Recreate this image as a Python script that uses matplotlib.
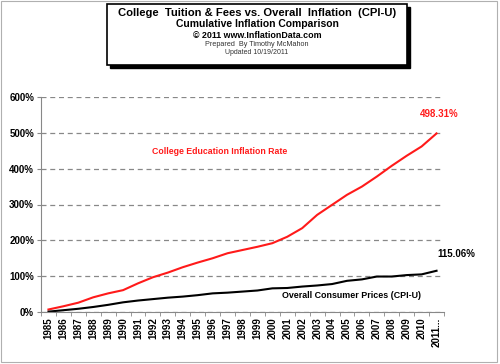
import matplotlib.pyplot as plt
from matplotlib.patches import Rectangle
import numpy as np

plt.rcParams["font.family"] = ["Liberation Sans", "DejaVu Sans"]

# ── Data ──────────────────────────────────────────────────────────────────────
years = [str(y) for y in range(1985, 2011)] + ["2011..."]
college = [7, 16, 26, 41, 52, 61, 80, 97, 110, 125, 138, 150, 164, 173,
           182, 192, 210, 234, 271, 299, 327, 350, 378, 408, 436, 462, 498.31]
cpi = [1, 5, 9, 14, 20, 27, 32, 36, 40, 43, 47, 52, 54, 57,
       60, 66, 67, 71, 74, 78, 87, 91, 99, 99, 103, 105, 115.06]
yticks = [0, 100, 200, 300, 400, 500, 600]

W, H = 500, 364
fig = plt.figure(figsize=(W / 100, H / 100), dpi=100)

# outer frame
fig.add_artist(Rectangle((1 / W, 1 - 362 / H), 496 / W, 361 / H,
                         transform=fig.transFigure, fill=False,
                         edgecolor="#b0b0b0", linewidth=0.8))

# title box with drop shadow
bx0, bx1, by0, by1 = 107, 407, 4, 65
fig.add_artist(Rectangle(((bx0 + 2.5) / W, 1 - (by1 + 2.5) / H),
                         (bx1 - bx0) / W, (by1 - by0) / H,
                         transform=fig.transFigure, facecolor="black",
                         edgecolor="black", linewidth=1))
fig.add_artist(Rectangle((bx0 / W, 1 - by1 / H), (bx1 - bx0) / W,
                         (by1 - by0) / H, transform=fig.transFigure,
                         facecolor="white", edgecolor="black", linewidth=1.2))

cx = (bx0 + bx1) / 2 / W
fig.text(cx, 1 - 12.5 / H, "College  Tuition & Fees vs. Overall  Inflation  (CPI-U)",
         ha="center", va="center", fontsize=8.1, fontweight="bold")
fig.text(cx, 1 - 24 / H, "Cumulative Inflation Comparison",
         ha="center", va="center", fontsize=7.5, fontweight="bold")
fig.text(cx, 1 - 35 / H, "© 2011 www.InflationData.com",
         ha="center", va="center", fontsize=6.4, fontweight="bold")
fig.text(cx, 1 - 44.5 / H, "Prepared  By Timothy McMahon",
         ha="center", va="center", fontsize=5.2, color="#333333")
fig.text(cx, 1 - 53 / H, "Updated 10/19/2011",
         ha="center", va="center", fontsize=5, color="#333333")

# plot area
ax0, ax1, ay0, ay1 = 41, 444, 97, 312
ax = fig.add_axes([ax0 / W, 1 - ay1 / H, (ax1 - ax0) / W, (ay1 - ay0) / H])
x = np.arange(len(years))
ax.plot(x, college, color="#ff1a1a", linewidth=1.5)
ax.plot(x, cpi, color="black", linewidth=1.5)

ax.set_xlim(-0.5, len(years) - 0.5)
ax.set_ylim(0, 600)
ax.set_yticks(yticks)
ax.set_yticklabels([f"{v}%" for v in yticks], fontsize=7, fontweight="bold")
ax.set_xticks(x)
ax.set_xticklabels(years, rotation=90, fontsize=7, fontweight="bold")
ax.set_xticks(np.arange(len(years) + 1) - 0.5, minor=True)
ax.tick_params(axis="x", which="major", length=0, pad=4)
ax.tick_params(axis="x", which="minor", length=3, color="#888888")
ax.tick_params(axis="y", length=3, color="#888888", pad=2)
ax.grid(axis="y", linestyle=(0, (4, 3)), color="#888888", linewidth=0.9)
ax.set_axisbelow(True)
for s in ["top", "right"]:
    ax.spines[s].set_visible(False)
for s in ["left", "bottom"]:
    ax.spines[s].set_color("#888888")

ax.text(26.2, 553, f"{college[-1]:.2f}%", color="#ff1a1a", fontsize=7,
        fontweight="bold", ha="center", va="center")
ax.text(27.3, 162, f"{cpi[-1]:.2f}%", color="black", fontsize=7,
        fontweight="bold", ha="center", va="center")
ax.text(11.45, 447, "College Education Inflation Rate", color="#ff1a1a",
        fontsize=6.3, fontweight="bold", ha="center", va="center")
ax.text(20.3, 45, "Overall Consumer Prices (CPI-U)", color="black",
        fontsize=6.4, fontweight="bold", ha="center", va="center")

fig.savefig("out.png", dpi=100)
